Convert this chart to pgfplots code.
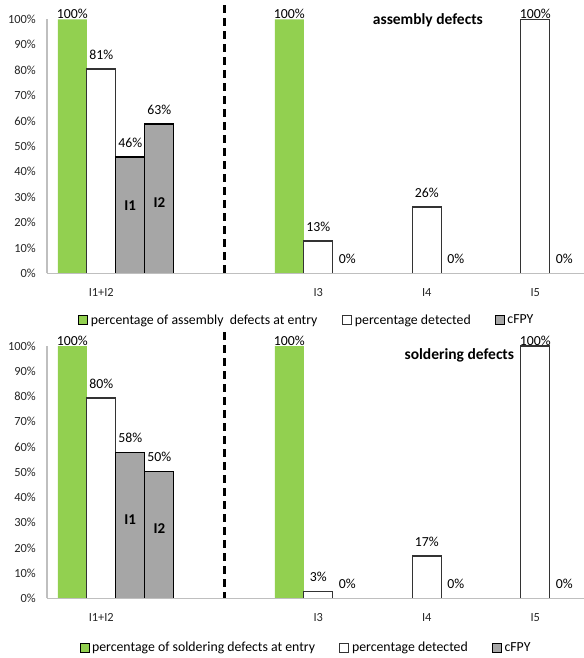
\documentclass[border=0pt]{standalone}
\usepackage{fontspec}
\setmainfont{Carlito}
\usepackage{pgfplots}
\pgfplotsset{compat=1.18}
\definecolor{xgreen}{HTML}{92D050}
\definecolor{xgrey}{HTML}{A6A6A6}
\definecolor{xaxis}{HTML}{BFBFBF}
\pgfplotsset{
  panel/.style={
    scale only axis, width=537bp,
    xmin=-0.5, xmax=4.449, ymin=0, ymax=100,
    axis lines*=left, axis on top,
    axis line style={draw=xaxis, line width=1.5bp},
    major tick length=0pt,
    xtick={0,2,3,4}, xticklabels={I1+I2,I3,I4,I5},
    ytick={0,10,20,30,40,50,60,70,80,90,100},
    yticklabels={0\%,10\%,20\%,30\%,40\%,50\%,60\%,70\%,80\%,90\%,100\%},
    tick label style={font=\fontsize{12.4bp}{14bp}\selectfont, text=black!85},
    xticklabel style={anchor=north, inner sep=0pt, yshift=-15bp},
    yticklabel style={anchor=east, inner sep=0pt, xshift=-11bp},
    clip=false,
    legend columns=3,
    legend style={draw=none, fill=none, inner sep=0pt, outer sep=0pt,
      font=\fontsize{13.8bp}{15bp}\selectfont, anchor=west,
      nodes={inner sep=0pt, outer sep=0pt},
      column sep=0pt,
      cells={anchor=west}},
    legend image code/.code={\draw[#1, line width=1bp] (0bp,-4.5bp) rectangle (9bp,4.5bp);},
  },
  bars/.style={ybar, bar width=29bp, line width=1.2bp},
  lab/.style={nodes near coords, point meta=explicit symbolic,
    visualization depends on={rawy \as \ry},
    every node near coord/.append style={font=\fontsize{13.8bp}{15bp}\selectfont,
      text=black, anchor=south, inner sep=0pt, xshift=#1, yshift={\ry>99.5?0:9}}},
}
\begin{document}
\begin{tikzpicture}
% ---------------- top panel: assembly defects ----------------
\begin{axis}[panel, height=254bp, at={(47bp,-273.3bp)}, anchor=south west,
  legend style={at={(axis description cs:0.0577,-0.1839)}}]
\addplot[bars, lab=-29bp, bar shift=-29bp, fill=xgreen, draw=none]
  coordinates {(0,100) [100\%] (2,100) [100\%]};
\addlegendentry{\hspace{3bp}\makebox[251bp][l]{percentage of assembly\ \ defects at entry}}
\addplot[bars, lab=0bp, bar shift=0bp, fill=white, draw=black!80]
  coordinates {(0,80.4) [81\%] (2,12.7) [13\%] (3,26.1) [26\%] (4,100) [100\%]};
\addlegendentry{\hspace{3bp}\makebox[140bp][l]{percentage detected}}
\addplot[bars, lab=29bp, bar shift=29bp, fill=xgrey, draw=black]
  coordinates {(0,45.8) [46\%] (2,0) [0\%] (3,0) [0\%] (4,0) [0\%]};
\addlegendentry{\hspace{2.5bp}cFPY}
\addplot[bars, lab=58bp, bar shift=58bp, fill=xgrey, draw=black, forget plot]
  coordinates {(0,58.8) [63\%]};
\node[font=\bfseries\fontsize{15bp}{17bp}\selectfont] at (axis cs:0.267,26.6) {I1};
\node[font=\bfseries\fontsize{15bp}{17bp}\selectfont] at (axis cs:0.535,27.8) {I2};
\node[font=\bfseries\fontsize{15.5bp}{17bp}\selectfont] at (axis cs:3.01,99.7) {assembly defects};
\draw[black, line width=2.5bp, dash pattern=on 8bp off 5bp] (axis cs:1.134,105.6) -- (axis cs:1.134,0);
\end{axis}
% ---------------- bottom panel: soldering defects ----------------
\begin{axis}[panel, height=252.3bp, at={(47bp,-598.3bp)}, anchor=south west,
  legend style={at={(axis description cs:0.0615,-0.1958)}}]
\addplot[bars, lab=-29bp, bar shift=-29bp, fill=xgreen, draw=none]
  coordinates {(0,100) [100\%] (2,100) [100\%]};
\addlegendentry{\hspace{2bp}\makebox[247bp][l]{percentage of soldering defects at entry}}
\addplot[bars, lab=0bp, bar shift=0bp, fill=white, draw=black!80]
  coordinates {(0,79.4) [80\%] (2,2.8) [3\%] (3,16.8) [17\%] (4,100) [100\%]};
\addlegendentry{\hspace{3bp}\makebox[140bp][l]{percentage detected}}
\addplot[bars, lab=29bp, bar shift=29bp, fill=xgrey, draw=black]
  coordinates {(0,57.9) [58\%] (2,0) [0\%] (3,0) [0\%] (4,0) [0\%]};
\addlegendentry{\hspace{2.5bp}cFPY}
\addplot[bars, lab=58bp, bar shift=58bp, fill=xgrey, draw=black, forget plot]
  coordinates {(0,50.4) [50\%]};
\node[font=\bfseries\fontsize{15bp}{17bp}\selectfont] at (axis cs:0.267,31.0) {I1};
\node[font=\bfseries\fontsize{15bp}{17bp}\selectfont] at (axis cs:0.535,27.7) {I2};
\node[font=\bfseries\fontsize{15.5bp}{17bp}\selectfont] at (axis cs:3.30,96.4) {soldering defects};
\draw[black, line width=2.5bp, dash pattern=on 8bp off 5bp] (axis cs:1.134,105.5) -- (axis cs:1.134,0);
\end{axis}
\pgfresetboundingbox
\path (0,0) rectangle (584bp,-658bp);
\end{tikzpicture}
\end{document}
